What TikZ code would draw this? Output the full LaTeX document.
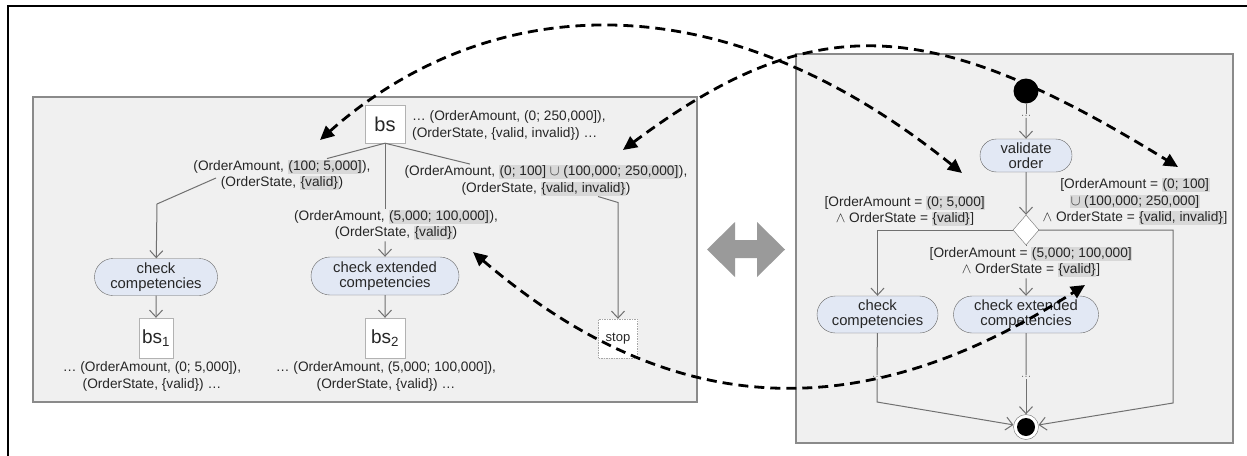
\documentclass[tikz,border=0pt]{standalone}
\usepackage{fontspec}
\setmainfont{Liberation Sans}
\usetikzlibrary{arrows.meta,positioning,calc,shapes.geometric,shapes.misc}

\definecolor{panelgray}{HTML}{F0F0F0}
\definecolor{framegray}{HTML}{8A8A8A}
\definecolor{actblue}{HTML}{E2E8F4}
\definecolor{hlgray}{HTML}{D8D8D8}
\definecolor{flowgray}{HTML}{707070}
\definecolor{txtgray}{HTML}{262626}
\definecolor{arrowgray}{HTML}{9A9A9A}

% shaded part of a guard
\newcommand{\hlbox}[1]{{\setlength{\fboxsep}{0.6pt}\colorbox{hlgray}{\vphantom{()}#1}}}
\newcommand{\gfont}{\fontsize{13.7}{16.5}\selectfont}
\newcommand{\afont}{\fontsize{14.8}{15}\selectfont}

\begin{document}
\begin{tikzpicture}[x=1pt, y=-1pt,
    panel/.style={draw=framegray, line width=1.4pt, fill=panelgray},
    act/.style={rounded rectangle, draw=black!60, fill=actblue, align=center, font=\afont, text=txtgray, inner sep=1pt},
    statebox/.style={rectangle, draw=black!30, fill=white, text=txtgray, inner sep=0pt},
    stopbox/.style={rectangle, draw=black!35, dash pattern=on 1.5pt off 1pt, fill=white, minimum size=39pt, inner sep=0pt, font=\fontsize{13}{14}\selectfont, text=txtgray},
    guard/.style={align=center, font=\gfont, text=txtgray, inner sep=1pt},
    note/.style={align=center, font=\gfont, text=txtgray, inner sep=1pt},
    elide/.style={font=\fontsize{11}{11}\selectfont, text=black!55, inner sep=1pt},
    startdot/.style={circle, fill=black, minimum size=25pt, inner sep=0pt},
    final/.style={circle, draw=flowgray, fill=white, minimum size=25pt, inner sep=0pt,
        path picture={\fill[black] (path picture bounding box.center) circle (9pt);}},
    decision/.style={diamond, draw=flowgray, fill=white, minimum width=26pt, minimum height=30pt, inner sep=0pt},
    wire/.style={draw=flowgray, line width=1pt},
    flow/.style={wire, -{Straight Barb[length=7pt,width=13pt]}},
    link/.style={line width=2.8pt, dash pattern=on 10pt off 6pt,
        {Triangle[length=14pt,width=13pt]}-{Triangle[length=14pt,width=13pt]}}
]
\useasboundingbox (0,0) rectangle (1247,455);
\draw[line width=2.5pt] (8,458) -- (8,6) -- (1250,6);

% the two panels
\draw[panel] (33,97) rectangle (697,402);
\draw[panel] (796,54) rectangle (1233,443);

% ---- left: branching of the business state
\node[statebox, minimum width=40pt, minimum height=38pt, font=\fontsize{20}{20}\selectfont] (bs) at (385,124) {bs};
\node[note, align=left, anchor=west] (bsnote) at (411,125.5) {… (OrderAmount, (0; 250,000]),\\(OrderState, \{valid, invalid\}) …};

\node[guard] (gA) at (282,175) {(OrderAmount, \hlbox{(100; 5,000]}),\\(OrderState, \hlbox{\{valid\}})};
\node[guard] (gB) at (396,225) {(OrderAmount, \hlbox{(5,000; 100,000]}),\\(OrderState, \hlbox{\{valid\}})};
\node[guard] (gC) at (546,180.5) {(OrderAmount, \hlbox{(0; 100] $\cup$ (100,000; 250,000]}),\\(OrderState, \hlbox{\{valid, invalid\}})};

\node[act, minimum width=125pt, minimum height=37pt] (chk) at (156,277) {check\\competencies};
\node[act, minimum width=150pt, minimum height=38pt] (chkx) at (385,276) {check extended\\competencies};

\node[statebox, minimum width=34pt, minimum height=40pt, font=\fontsize{19}{19}\selectfont] (bsA) at (156,338) {bs\textsubscript{1}};
\node[statebox, minimum width=40pt, minimum height=40pt, font=\fontsize{19}{19}\selectfont] (bsB) at (385,338) {bs\textsubscript{2}};
\node[stopbox] (stop) at (618,338.5) {stop};

\node[note] (noteA) at (152,376.5) {… (OrderAmount, (0; 5,000]),\\(OrderState, \{valid\}) …};
\node[note] (noteB) at (386,376.5) {… (OrderAmount, (5,000; 100,000]),\\(OrderState, \{valid\}) …};

\draw[wire] (bs.south) -- ([xshift=45pt]gA.north);
\draw[flow] ($(gA.center)+(-66,3)$) -- ++(-59,26) -- (chk);
\draw[wire] (bs.south) -- (bs.south |- gB.north);
\draw[flow] (bs.south |- gB.south) -- (chkx);
\draw[wire] (bs.south) -- ([xshift=-76pt]gC.north);
\draw[flow] ($(gC.center)+(52,16)$) -- ++(20,6) -- (stop);
\draw[flow] (chk) -- (bsA);
\draw[flow] (chkx) -- (bsB);

% ---- right: activity with decision
\node[startdot] (start) at (1026,91) {};
\node[elide] (dA) at (1026,116) {…};
\node[act, minimum width=94pt, minimum height=33pt] (val) at (1026,155.5) {validate\\order};
\node[decision] (dec) at (1026,230) {};

\node[guard] (gL) at (905,211) {[OrderAmount = \hlbox{(0; 5,000]}\\$\wedge$ OrderState = \hlbox{\{valid\}}]};
\node[guard] (gR) at (1135,201.5) {[OrderAmount = \hlbox{(0; 100]}\\\hlbox{$\cup$ (100,000; 250,000]}\\$\wedge$ OrderState = \hlbox{\{valid, invalid\}}]};
\node[guard] (gM) at (1031,262) {[OrderAmount = \hlbox{(5,000; 100,000]}\\$\wedge$ OrderState = \hlbox{\{valid\}}]};

\node[act, minimum width=123pt, minimum height=37pt] (chkR) at (877.5,314.5) {check\\competencies};
\node[act, minimum width=147pt, minimum height=37pt] (chkxR) at (1026,314.5) {check extended\\competencies};

\node[elide] (dL) at (877,377) {…};
\node[elide] (dM) at (1026,377) {…};
\node[final] (fin) at (1026,427) {};
\coordinate (lc) at (877,402);
\coordinate (rc) at (1173,403);

\draw[wire] (start) -- (dA);
\draw[flow] (dA) -- (val);
\draw[flow] (val) -- (dec);
\draw[flow] (dec.west) -| (chkR);
\draw[wire] (dec.south) -- (dec.south |- gM.north);
\draw[flow] (dec.south |- gM.south) -- (chkxR);
\draw[flow] (dec.east) -| (rc) -- (fin);
\draw[wire] (chkR) -- (dL);
\draw[flow] (dL) -- (lc) -- (fin);
\draw[wire] (chkxR) -- (dM);
\draw[flow] (dM) -- (fin);

% correspondence between the two sides
\fill[arrowgray] (707,249.5) -- (735,222) -- (735,240) -- (757,240) -- (757,222) -- (785,249.5)
    -- (757,277) -- (757,258) -- (735,258) -- (735,277) -- cycle;

\coordinate (lA1) at (320,140);
\coordinate (lA2) at (962,173);
\coordinate (lB1) at (623,150);
\coordinate (lB2) at (1178,167);
\coordinate (lC1) at (473,252);
\coordinate (lC2) at (1085,285);
\draw[link] (lA1) .. controls (472,5) and (701,-37) .. (lA2);
\draw[link] (lB1) .. controls (815,7) and (931,15) .. (lB2);
\draw[link] (lC1) .. controls (684,432) and (876,419) .. (lC2);
\end{tikzpicture}
\end{document}
